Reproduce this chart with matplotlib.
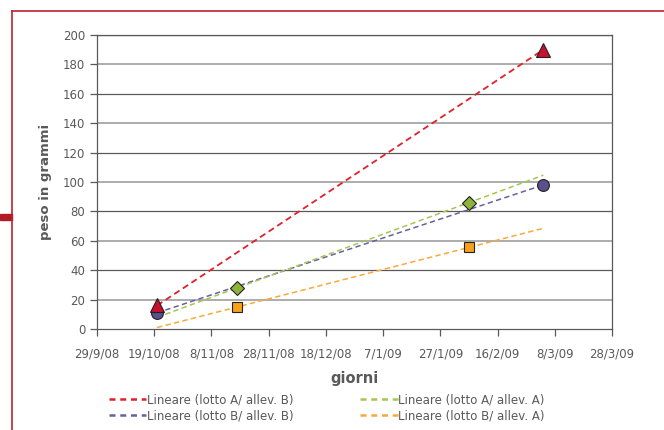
import numpy as np
import matplotlib
matplotlib.use("Agg")
import matplotlib.pyplot as plt
import matplotlib.dates as mdates
from matplotlib.lines import Line2D
from matplotlib.patches import Rectangle
from datetime import datetime

# data
series_labels = ["Lineare (lotto A/ allev. B)", "Lineare (lotto B/ allev. B)",
                 "Lineare (lotto A/ allev. A)", "Lineare (lotto B/ allev. A)"]
dates_ab = ["20/10/08", "4/3/09"]
peso_ab = [16, 190]
dates_bb = ["20/10/08", "4/3/09"]
peso_bb = [11, 98]
dates_aa = ["17/11/08", "6/2/09"]
peso_aa = [28, 86]
dates_ba = ["17/11/08", "6/2/09"]
peso_ba = [15, 55.5]

trend_start = "20/10/08"
trend_end = "4/3/09"
x_start = "29/9/08"
x_end = "28/3/09"


def to_num(s):
    return mdates.date2num(datetime.strptime(s, "%d/%m/%y"))


text_col = "#595959"
styles = [
    dict(marker="^", color="#C8102E", line="#E0202A", ms=9.5, lw=1.3),
    dict(marker="o", color="#5B4F8E", line="#6A5FA0", ms=8.5, lw=1.1),
    dict(marker="D", color="#8DB33B", line="#A3C750", ms=7, lw=1.1),
    dict(marker="s", color="#F7A11A", line="#F9A83A", ms=7, lw=1.1),
]
all_dates = [dates_ab, dates_bb, dates_aa, dates_ba]
all_peso = [peso_ab, peso_bb, peso_aa, peso_ba]

fig = plt.figure(figsize=(6.64, 4.30), dpi=100)
ax = fig.add_axes([97 / 664, 1 - 329 / 430, (612 - 97) / 664, (329 - 35) / 430])

x0, x1 = to_num(x_start), to_num(x_end)
ax.set_xlim(x0, x1)
ax.set_ylim(0, 200)

# alternating grid lines
for v in range(20, 201, 20):
    dark = (v // 20) % 2 == 0
    ax.axhline(v, color="#595959" if dark else "#A6A6A6",
               lw=0.9 if dark else 1.3, zorder=0)

# trend lines + markers
tx = np.array([to_num(trend_start), to_num(trend_end)])
handles = []
for d, p, st, lab in zip(all_dates, all_peso, styles, series_labels):
    xs = np.array([to_num(s) for s in d])
    k, b = np.polyfit(xs, p, 1)
    ax.plot(tx, k * tx + b, color=st["line"], lw=st["lw"],
            dashes=(3.5, 2.2), zorder=2)
    handles.append(Line2D([], [], color=st["line"], lw=1.8, dashes=(2.4, 1.9), label=lab))
for d, p, st in zip(all_dates[::-1], all_peso[::-1], styles[::-1]):
    xs = [to_num(s) for s in d]
    ax.plot(xs, p, ls="none", marker=st["marker"], ms=st["ms"],
            mfc=st["color"], mec="#222222", mew=0.8, zorder=3)

ticks = [x0 + 20 * i for i in range(10)]
ax.set_xticks(ticks)
ax.set_xticklabels([f"{mdates.num2date(t).day}/{mdates.num2date(t).month}/{mdates.num2date(t).strftime('%y')}"
                    for t in ticks])
ax.set_yticks(range(0, 201, 20))

for s in ["left", "bottom", "top", "right"]:
    ax.spines[s].set_color("#595959")
    ax.spines[s].set_linewidth(0.9)
ax.tick_params(axis="both", colors="#595959", labelcolor=text_col,
               labelsize=8.5, length=5, width=0.9)
ax.tick_params(axis="x", pad=8)

ax.set_xlabel("giorni", fontsize=10.5, fontweight="bold", color=text_col, labelpad=8)
ax.set_ylabel("peso in grammi", fontsize=9.5, fontweight="bold", color=text_col, labelpad=8)

fig.legend(handles=handles, loc="upper left", bbox_to_anchor=(98 / 664, 1 - 383 / 430),
           ncol=2, frameon=False, fontsize=8.5, handlelength=3.2, handletextpad=0.05,
           columnspacing=5.6, labelspacing=0.25, labelcolor=text_col)

# slide frame
red = "#C0202A"
fig.add_artist(Line2D([12 / 664, 1], [1 - 11 / 430, 1 - 11 / 430], color=red, lw=1.2))
fig.add_artist(Line2D([12 / 664, 12 / 664], [0, 1 - 11 / 430], color=red, lw=1.2))
fig.add_artist(Rectangle((0, 1 - 220 / 430), 12 / 664, 6 / 430, color="#B01C26",
                         transform=fig.transFigure))

fig.savefig("out.png", dpi=100)
